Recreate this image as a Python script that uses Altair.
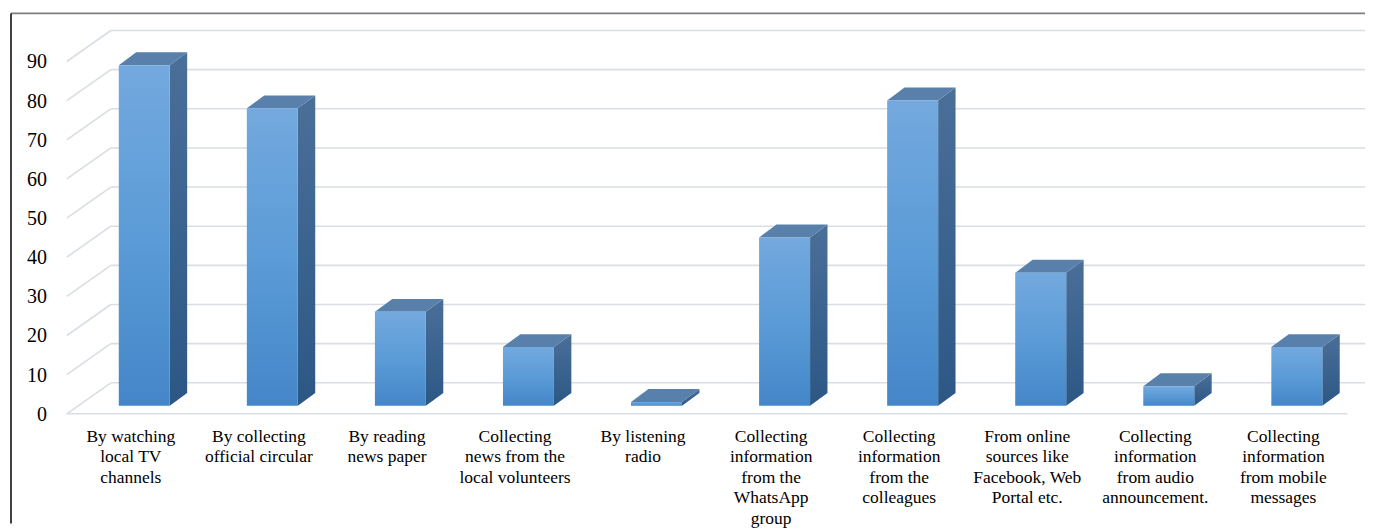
import altair as alt
import pandas as pd

# ---------------- data ----------------
categories = [
    "By watching local TV channels",
    "By collecting official circular",
    "By reading news paper",
    "Collecting news from the local volunteers",
    "By listening radio",
    "Collecting information from the WhatsApp group",
    "Collecting information from the colleagues",
    "From online sources like Facebook, Web Portal etc.",
    "Collecting information from audio announcement.",
    "Collecting information from mobile messages",
]
label_lines = [
    "By watching\nlocal TV\nchannels",
    "By collecting\nofficial circular",
    "By reading\nnews paper",
    "Collecting\nnews from the\nlocal volunteers",
    "By listening\nradio",
    "Collecting\ninformation\nfrom the\nWhatsApp\ngroup",
    "Collecting\ninformation\nfrom the\ncolleagues",
    "From online\nsources like\nFacebook, Web\nPortal etc.",
    "Collecting\ninformation\nfrom audio\nannouncement.",
    "Collecting\ninformation\nfrom mobile\nmessages",
]
values = [87, 76, 24, 15, 1, 43, 78, 34, 5, 15]
y_ticks = [0, 10, 20, 30, 40, 50, 60, 70, 80, 90]

# ---------------- geometry (data units) ----------------
W, H = 1356, 511
PX_PER_CAT = 128.25
BAR_OFF = 0.105      # bars sit a little behind/right of the front floor centre
BAR_HALF = 0.199
DEPTH_X = 0.136
DEPTH_Y = 3.3
BACK_Y = 5.88        # back wall offset
FRONT_Y = -2.04      # front floor offset
WALL_X = -0.156
FLOOR_L, FLOOR_R = -0.5, 9.5
XMIN = -120 / PX_PER_CAT
XMAX = (W - 120) / PX_PER_CAT
YMIN, YMAX = -30.10, 100.255

xs = alt.Scale(domain=[XMIN, XMAX], nice=False, zero=False)
ys = alt.Scale(domain=[YMIN, YMAX], nice=False, zero=False)
FONT = "'Liberation Serif', 'Times New Roman', Times, 'DejaVu Serif', serif"
GRID = "#d9dde4"

# ---------------- tables ----------------
idx = list(range(len(values)))
front = pd.DataFrame({
    "cat": categories,
    "xl": [i + BAR_OFF - BAR_HALF for i in idx],
    "xr": [i + BAR_OFF + BAR_HALF for i in idx],
    "y0": [0] * len(values),
    "v": values,
})

side_rows = []
top_rows = []
for i, v in zip(idx, values):
    xl = i + BAR_OFF - BAR_HALF
    xr = i + BAR_OFF + BAR_HALF
    side_rows.append({"bar": i, "x": xr, "y": 0, "y2": v})
    side_rows.append({"bar": i, "x": xr + DEPTH_X, "y": DEPTH_Y, "y2": v + DEPTH_Y})
    top_rows.append({"bar": i, "y": v, "x": xl, "x2": xr})
    top_rows.append({"bar": i, "y": v + DEPTH_Y, "x": xl + DEPTH_X, "x2": xr + DEPTH_X})
side = pd.DataFrame(side_rows)
top = pd.DataFrame(top_rows)

back_lines = pd.DataFrame({
    "x": [WALL_X] * len(y_ticks),
    "x2": [XMAX] * len(y_ticks),
    "y": [t + BACK_Y for t in y_ticks],
})
diag_lines = pd.DataFrame({
    "x": [FLOOR_L] * len(y_ticks),
    "x2": [WALL_X] * len(y_ticks),
    "y": [t + FRONT_Y for t in y_ticks],
    "y2": [t + BACK_Y for t in y_ticks],
})
floor_line = pd.DataFrame({"x": [FLOOR_L], "x2": [FLOOR_R], "y": [FRONT_Y]})

ylab = pd.DataFrame({
    "x": [-0.655] * len(y_ticks),
    "y": [t + FRONT_Y for t in y_ticks],
    "t": [str(t) for t in y_ticks],
})
xlab = pd.DataFrame({
    "x": idx,
    "y": [-5.6] * len(values),
    "t": label_lines,
})

# ---------------- layers ----------------
def X(f):
    return alt.X(f, type="quantitative", scale=xs, axis=None)

def Y(f):
    return alt.Y(f, type="quantitative", scale=ys, axis=None)

back = alt.Chart(back_lines).mark_rule(color=GRID, strokeWidth=1.6).encode(
    x=X("x"), x2="x2", y=Y("y"))
diag = alt.Chart(diag_lines).mark_rule(color=GRID, strokeWidth=1.6).encode(
    x=X("x"), x2="x2", y=Y("y"), y2="y2")
floor = alt.Chart(floor_line).mark_rule(color=GRID, strokeWidth=1.6).encode(
    x=X("x"), x2="x2", y=Y("y"))

side_grad = alt.Gradient(
    gradient="linear",
    stops=[alt.GradientStop(color="#4a6f99", offset=0),
           alt.GradientStop(color="#2c5785", offset=1)],
    x1=0, x2=0, y1=0, y2=1)
front_grad = alt.Gradient(
    gradient="linear",
    stops=[alt.GradientStop(color="#73a9de", offset=0),
           alt.GradientStop(color="#5b9bd7", offset=0.5),
           alt.GradientStop(color="#4486c9", offset=1)],
    x1=0, x2=0, y1=0, y2=1)

side_layer = alt.Chart(side).mark_area(orient="vertical", fill=side_grad).encode(
    x=X("x"), y=Y("y"), y2="y2", detail="bar:N")
top_layer = alt.Chart(top).mark_area(orient="horizontal", fill="#5880ab").encode(
    y=Y("y"), x=X("x"), x2="x2", detail="bar:N")
front_layer = alt.Chart(front).mark_rect(fill=front_grad).encode(
    x=X("xl"), x2="xr", y=Y("y0"), y2="v", tooltip=["cat", "v"])

ytext = alt.Chart(ylab).mark_text(
    align="right", baseline="middle", font=FONT, fontSize=20, color="#000", dy=1
).encode(x=X("x"), y=Y("y"), text="t:N")
xtext = alt.Chart(xlab).mark_text(
    align="center", baseline="top", font=FONT, fontSize=17.5, color="#000",
    lineBreak="\n", lineHeight=20.5
).encode(x=X("x"), y=Y("y"), text="t:N")

border_df = pd.DataFrame({"a": [0]})
border_top = alt.Chart(border_df).mark_rule(color="#7f7f7f", strokeWidth=2).encode(
    x=alt.value(0), x2=alt.value(W), y=alt.value(0))
border_left = alt.Chart(border_df).mark_rule(color="#000000", strokeWidth=1.5).encode(
    x=alt.value(0), y=alt.value(0), y2=alt.value(H))

chart = alt.layer(
    back, diag, floor, side_layer, top_layer, front_layer, ytext, xtext,
    border_top, border_left
).properties(
    width=W, height=H,
    padding={"left": 2, "top": 4, "right": 0, "bottom": 0},
    background="white",
).configure_view(strokeWidth=0)

chart.save("out.html", embed_options={"renderer": "svg", "actions": False})
